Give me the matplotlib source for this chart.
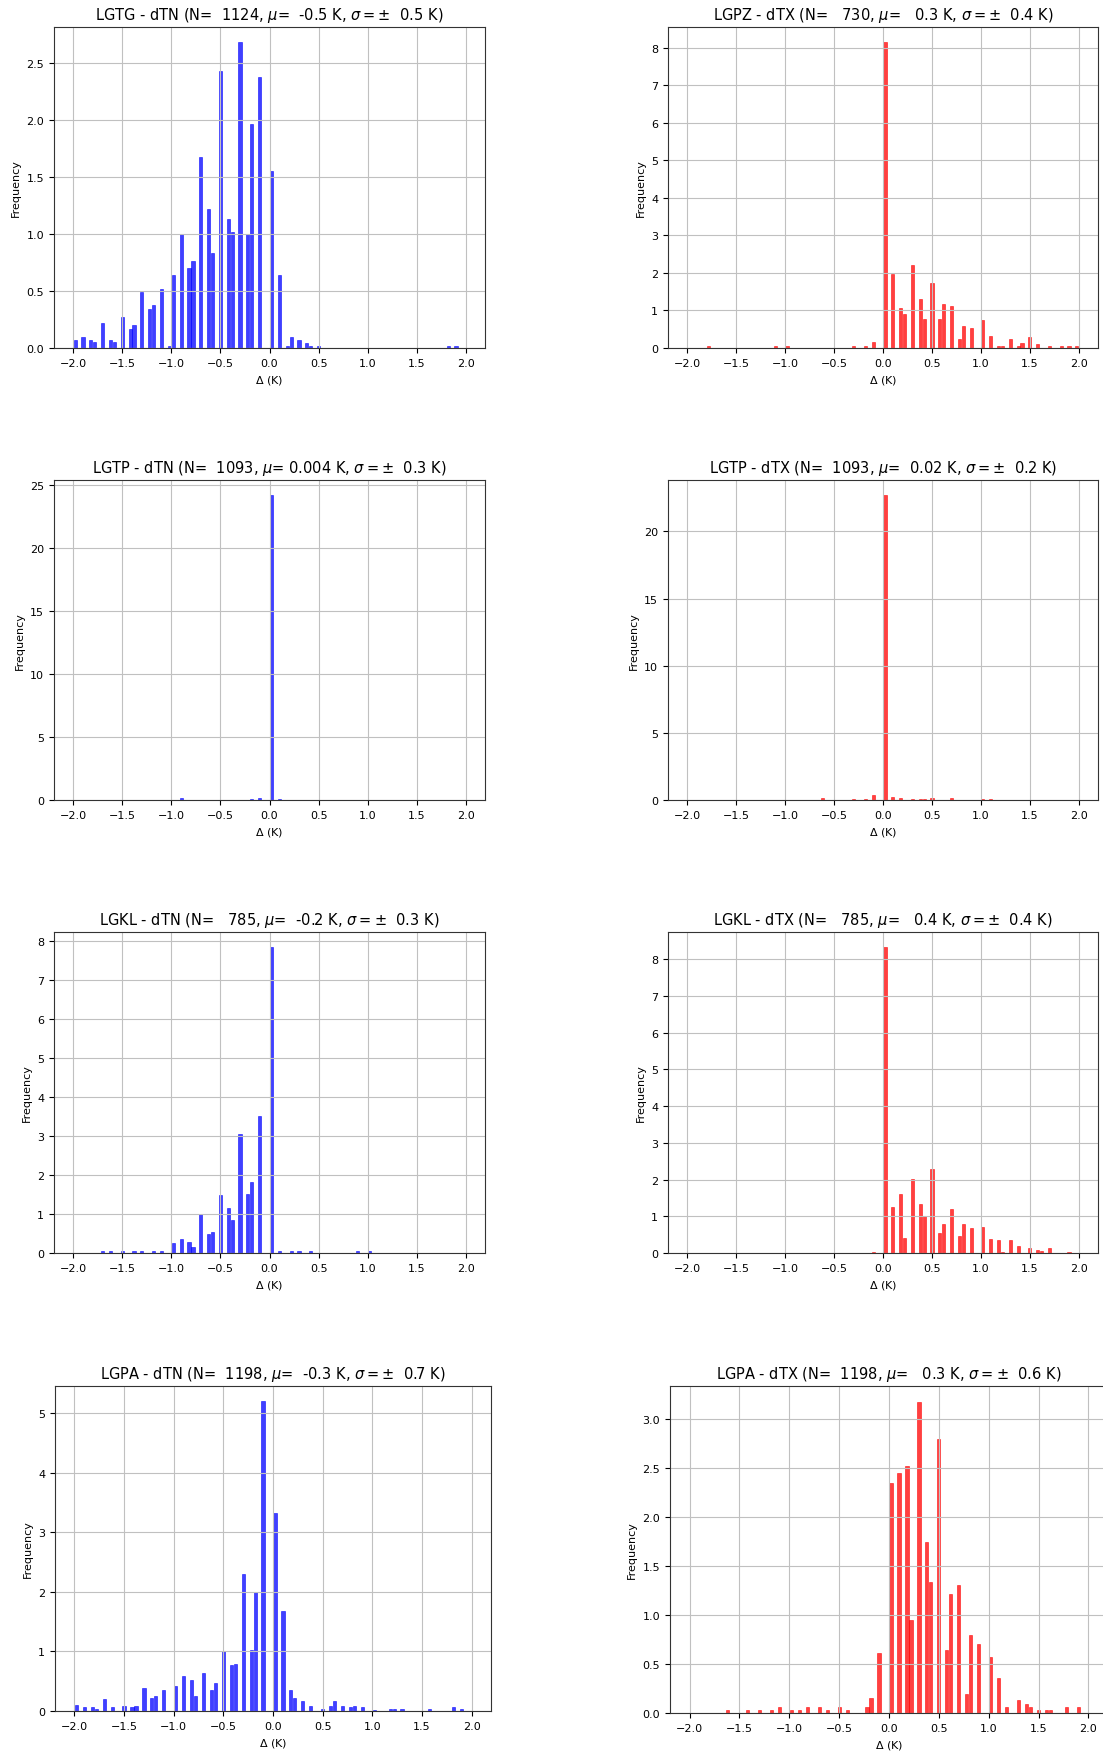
import numpy as np
import matplotlib
matplotlib.use("Agg")
import matplotlib.pyplot as plt
from matplotlib.ticker import MultipleLocator

# Station / variable metadata
stations = ["LGTG", "LGPZ", "LGTP", "LGTP", "LGKL", "LGKL", "LGPA", "LGPA"]
variables = ["dTN", "dTX", "dTN", "dTX", "dTN", "dTX", "dTN", "dTX"]
n_obs = [1124, 730, 1093, 1093, 785, 785, 1198, 1198]
mu_text = ["-0.5", "0.3", "0.004", "0.02", "-0.2", "0.4", "-0.3", "0.3"]
sigma_text = ["0.5", "0.4", "0.3", "0.2", "0.3", "0.4", "0.7", "0.6"]

# Histogram bins: 100 bins of 0.04 K over [-2, 2]
bin_edges = np.linspace(-2.0, 2.0, 101)

# Density per non-empty bin (bin centres in K)
lgtg_tn_x = [-1.98, -1.90, -1.82, -1.78, -1.70, -1.62, -1.58, -1.50, -1.42, -1.38,
             -1.30, -1.22, -1.18, -1.10, -1.02, -0.98, -0.90, -0.82, -0.78, -0.70,
             -0.62, -0.58, -0.50, -0.42, -0.38, -0.30, -0.22, -0.18, -0.10, 0.02,
             0.10, 0.18, 0.22, 0.30, 0.38, 0.42, 0.50, 1.82, 1.90]
lgtg_tn_d = [0.07, 0.10, 0.07, 0.05, 0.22, 0.07, 0.05, 0.27, 0.17, 0.20,
             0.49, 0.34, 0.38, 0.52, 0.02, 0.64, 1.00, 0.70, 0.76, 1.67,
             1.22, 0.83, 2.43, 1.13, 1.02, 2.68, 1.00, 1.96, 2.38, 1.55,
             0.64, 0.02, 0.10, 0.07, 0.04, 0.02, 0.02, 0.02, 0.02]

lgpz_tx_x = [-1.78, -1.10, -0.98, -0.30, -0.18, -0.10, 0.02, 0.10, 0.18, 0.22,
             0.30, 0.38, 0.42, 0.50, 0.58, 0.62, 0.70, 0.78, 0.82, 0.90,
             1.02, 1.10, 1.18, 1.22, 1.30, 1.38, 1.42, 1.50, 1.58, 1.70,
             1.82, 1.90, 1.98]
lgpz_tx_d = [0.04, 0.04, 0.04, 0.04, 0.04, 0.15, 8.15, 1.96, 1.07, 0.90,
             2.20, 1.30, 0.77, 1.72, 0.77, 1.17, 1.12, 0.24, 0.58, 0.54,
             0.74, 0.33, 0.05, 0.05, 0.24, 0.05, 0.14, 0.29, 0.10, 0.05,
             0.05, 0.05, 0.05]

lgtp_tn_x = [-0.90, -0.18, -0.10, 0.02, 0.10]
lgtp_tn_d = [0.12, 0.05, 0.12, 24.2, 0.05]

lgtp_tx_x = [-0.62, -0.30, -0.18, -0.10, 0.02, 0.10, 0.18, 0.30, 0.38, 0.42,
             0.50, 0.70, 1.02, 1.10]
lgtp_tx_d = [0.12, 0.05, 0.05, 0.40, 22.7, 0.25, 0.12, 0.10, 0.10, 0.05,
             0.14, 0.12, 0.05, 0.05]

lgkl_tn_x = [-1.70, -1.62, -1.50, -1.38, -1.30, -1.18, -1.10, -0.98, -0.90, -0.82,
             -0.78, -0.70, -0.62, -0.58, -0.50, -0.42, -0.38, -0.30, -0.22, -0.18,
             -0.10, 0.02, 0.10, 0.22, 0.30, 0.42, 0.90, 1.02]
lgkl_tn_d = [0.04, 0.04, 0.04, 0.06, 0.04, 0.06, 0.06, 0.25, 0.37, 0.29,
             0.16, 1.00, 0.49, 0.54, 1.48, 1.15, 0.84, 3.05, 1.52, 1.82,
             3.53, 7.85, 0.06, 0.04, 0.04, 0.04, 0.04, 0.04]

lgkl_tx_x = [-0.10, 0.02, 0.10, 0.18, 0.22, 0.30, 0.38, 0.42, 0.50, 0.58,
             0.62, 0.70, 0.78, 0.82, 0.90, 1.02, 1.10, 1.18, 1.22, 1.30,
             1.38, 1.50, 1.58, 1.62, 1.70, 1.90]
lgkl_tx_d = [0.04, 8.33, 1.24, 1.62, 0.40, 2.02, 1.33, 1.01, 2.28, 0.54,
             0.80, 1.19, 0.46, 0.80, 0.67, 0.70, 0.37, 0.35, 0.04, 0.35,
             0.18, 0.13, 0.08, 0.06, 0.13, 0.04]

lgpa_tn_x = [-1.98, -1.90, -1.82, -1.78, -1.70, -1.62, -1.50, -1.42, -1.38, -1.30,
             -1.22, -1.18, -1.10, -0.98, -0.90, -0.82, -0.78, -0.70, -0.62, -0.58,
             -0.50, -0.42, -0.38, -0.30, -0.22, -0.18, -0.10, 0.02, 0.10, 0.18,
             0.22, 0.30, 0.38, 0.50, 0.58, 0.62, 0.70, 0.78, 0.82, 0.90,
             1.02, 1.18, 1.22, 1.30, 1.58, 1.82, 1.90]
lgpa_tn_d = [0.10, 0.06, 0.06, 0.03, 0.20, 0.06, 0.09, 0.06, 0.09, 0.38,
             0.22, 0.25, 0.36, 0.42, 0.58, 0.52, 0.25, 0.64, 0.36, 0.47,
             1.00, 0.77, 0.79, 2.30, 1.02, 2.00, 5.20, 3.32, 1.68, 0.36,
             0.22, 0.16, 0.09, 0.04, 0.09, 0.16, 0.09, 0.06, 0.09, 0.06,
             0.02, 0.03, 0.03, 0.03, 0.03, 0.06, 0.03]

lgpa_tx_x = [-1.62, -1.42, -1.30, -1.18, -1.10, -0.98, -0.90, -0.82, -0.70, -0.62,
             -0.50, -0.42, -0.22, -0.18, -0.10, 0.02, 0.10, 0.18, 0.22, 0.30,
             0.38, 0.42, 0.50, 0.58, 0.62, 0.70, 0.78, 0.82, 0.90, 1.02,
             1.10, 1.18, 1.30, 1.38, 1.42, 1.50, 1.58, 1.62, 1.78, 1.90]
lgpa_tx_d = [0.03, 0.03, 0.03, 0.03, 0.06, 0.03, 0.03, 0.06, 0.06, 0.03,
             0.06, 0.03, 0.06, 0.15, 0.61, 2.35, 2.45, 2.52, 0.95, 3.18,
             1.75, 1.34, 2.80, 0.64, 1.22, 1.31, 0.19, 0.80, 0.70, 0.57,
             0.36, 0.06, 0.13, 0.09, 0.06, 0.03, 0.03, 0.03, 0.06, 0.06]

panel_x = [lgtg_tn_x, lgpz_tx_x, lgtp_tn_x, lgtp_tx_x,
           lgkl_tn_x, lgkl_tx_x, lgpa_tn_x, lgpa_tx_x]
panel_d = [lgtg_tn_d, lgpz_tx_d, lgtp_tn_d, lgtp_tx_d,
           lgkl_tn_d, lgkl_tx_d, lgpa_tn_d, lgpa_tx_d]

# Layout (pixel boxes: left, top, right, bottom)
W, H = 1103, 1756
boxes = [(54, 28, 485, 349), (668, 28, 1098, 349),
         (54, 481, 485, 801), (668, 481, 1098, 801),
         (54, 933, 485, 1254), (668, 933, 1098, 1254),
         (55, 1387, 491, 1712), (670, 1387, 1108, 1714)]
y_steps = [0.5, 1, 5, 5, 1, 1, 1, 0.5]

fig = plt.figure(figsize=(W / 100, H / 100), dpi=100)

for i in range(8):
    x0, y0, x1, y1 = boxes[i]
    ax = fig.add_axes([x0 / W, 1 - y1 / H, (x1 - x0) / W, (y1 - y0) / H])
    color = "blue" if variables[i] == "dTN" else "red"
    ax.hist(panel_x[i], bins=bin_edges, weights=panel_d[i],
            color=color, alpha=0.75, rwidth=0.8,
            edgecolor=color, linewidth=0.5)
    ax.grid(True, color="#c0c0c0", linewidth=0.8)
    ax.xaxis.set_major_locator(MultipleLocator(0.5))
    ax.yaxis.set_major_locator(MultipleLocator(y_steps[i]))
    ax.tick_params(labelsize=8)
    for sp in ax.spines.values():
        sp.set_edgecolor("#333333")
    ax.set_xlabel(r"$\Delta$ (K)", fontsize=8)
    ax.set_ylabel("Frequency", fontsize=8)
    title = (f"{stations[i]} - {variables[i]} (N={n_obs[i]:6d}, "
             f"$\\mu$={mu_text[i]:>6s} K, $\\sigma=\\pm$  {sigma_text[i]} K)")
    ax.set_title(title, fontsize=10.5)

fig.savefig("out.png", dpi=100)
